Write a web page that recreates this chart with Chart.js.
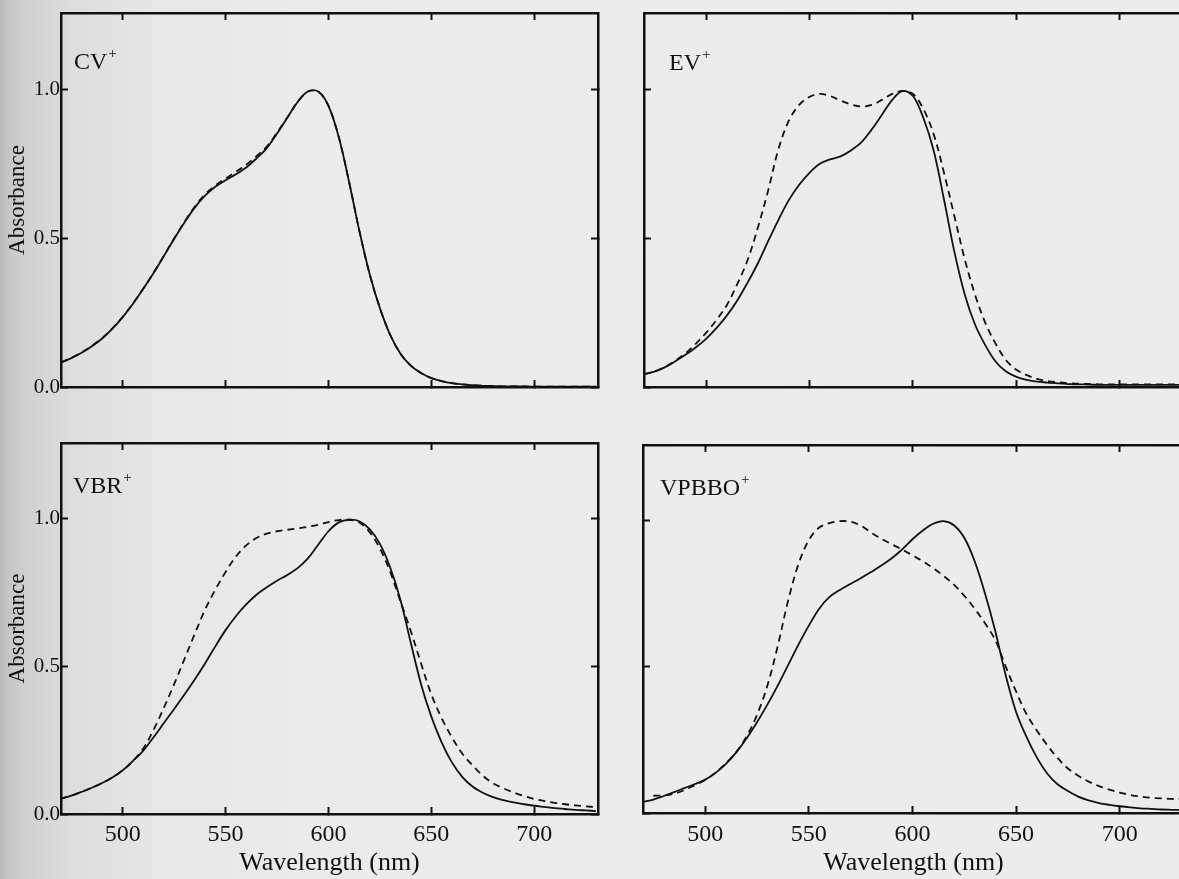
<!DOCTYPE html>
<html>
<head>
<meta charset="utf-8">
<script src="https://cdn.jsdelivr.net/npm/chart.js@4.4.1/dist/chart.umd.min.js"></script>
<style>
html, body { margin: 0; padding: 0; width: 1179px; height: 879px; overflow: hidden; }
body {
  background: linear-gradient(to right, #b8b8b6 0, #c8c8c6 10px, #d3d3d1 35px, #dddddb 70px, #e6e6e4 150px, #ebebe9 300px, #ececea 100%);
  position: relative;
}
.panel { position: absolute; }
</style>
</head>
<body>
<div class="panel" style="left:0;top:0;width:600px;height:430px"><canvas id="cv"></canvas></div>
<div class="panel" style="left:583px;top:0;width:603px;height:430px"><canvas id="ev"></canvas></div>
<div class="panel" style="left:0;top:430px;width:600px;height:449px"><canvas id="vbr"></canvas></div>
<div class="panel" style="left:582px;top:432px;width:604px;height:447px"><canvas id="vpbbo"></canvas></div>
<script>
// wavelength grid (nm)
var wavelengths = [470,475,480,485,490,495,500,505,510,515,520,525,530,535,540,545,550,555,560,565,
  570,575,580,585,590,595,600,605,610,615,620,625,630,635,640,645,650,655,660,665,
  670,675,680,685,690,695,700,705,710,715,720,725,730];

var xTicks = [500, 550, 600, 650, 700];
var yTicks = [0, 0.5, 1.0];

// normalised absorbance, solid and dashed spectra
var cvSolid = [0.082,0.097,0.115,0.137,0.163,0.196,0.235,0.280,0.330,0.383,
  0.440,0.498,0.553,0.603,0.643,0.673,0.695,0.715,0.738,0.768,
  0.803,0.852,0.905,0.958,0.993,0.993,0.945,0.840,0.690,0.525,
  0.380,0.265,0.175,0.112,0.072,0.047,0.030,0.020,0.013,0.009,
  0.006,0.004,0.003,0.002,0.002,0.002,0.001,0.001,0.001,0.001,
  0.001,0.001,0.001];
var cvDashed = [0.083,0.098,0.116,0.138,0.164,0.197,0.236,0.281,0.331,0.384,
  0.441,0.499,0.555,0.606,0.647,0.677,0.701,0.723,0.747,0.776,
  0.808,0.855,0.906,0.958,0.993,0.993,0.945,0.840,0.690,0.525,
  0.380,0.265,0.175,0.112,0.072,0.047,0.030,0.020,0.013,0.009,
  0.006,0.004,0.003,0.002,0.002,0.002,0.001,0.001,0.001,0.001,
  0.001,0.001,0.001];

var evSolid = [0.043,0.052,0.066,0.086,0.108,0.133,0.162,0.198,0.240,0.290,
  0.350,0.415,0.490,0.562,0.628,0.680,0.720,0.750,0.765,0.775,
  0.795,0.822,0.865,0.915,0.965,0.995,0.978,0.905,0.795,0.630,
  0.455,0.312,0.210,0.140,0.085,0.052,0.034,0.024,0.018,0.015,
  0.012,0.010,0.009,0.008,0.007,0.007,0.007,0.007,0.007,0.007,
  0.007,0.007,0.007];
var evDashed = [0.043,0.052,0.067,0.088,0.113,0.145,0.182,0.225,0.275,0.345,
  0.425,0.535,0.660,0.800,0.895,0.948,0.975,0.985,0.978,0.963,
  0.950,0.943,0.948,0.965,0.985,0.995,0.985,0.935,0.850,0.720,
  0.575,0.430,0.310,0.215,0.145,0.090,0.058,0.040,0.027,0.020,
  0.016,0.013,0.011,0.010,0.009,0.009,0.009,0.009,0.009,0.009,
  0.009,0.009,0.009];

var vbrSolid = [0.052,0.062,0.075,0.089,0.105,0.124,0.148,0.180,0.215,0.260,
  0.308,0.356,0.405,0.456,0.510,0.568,0.623,0.670,0.710,0.743,
  0.768,0.790,0.810,0.833,0.866,0.912,0.958,0.988,0.997,0.992,
  0.965,0.915,0.835,0.725,0.580,0.440,0.330,0.243,0.175,0.126,
  0.093,0.072,0.057,0.047,0.039,0.033,0.028,0.024,0.020,0.017,
  0.014,0.012,0.010];
var vbrDashed = [0.052,0.062,0.075,0.089,0.105,0.124,0.148,0.180,0.222,0.285,
  0.360,0.440,0.525,0.610,0.692,0.760,0.820,0.872,0.910,0.935,
  0.950,0.958,0.963,0.968,0.973,0.980,0.989,0.996,0.997,0.988,
  0.955,0.900,0.820,0.720,0.620,0.510,0.405,0.325,0.260,0.205,
  0.165,0.130,0.104,0.087,0.073,0.061,0.051,0.044,0.038,0.033,
  0.029,0.026,0.023];

var vpbboSolid = [0.038,0.046,0.058,0.071,0.085,0.099,0.114,0.137,0.168,0.207,
  0.255,0.310,0.370,0.435,0.505,0.575,0.640,0.698,0.738,0.762,
  0.782,0.802,0.823,0.845,0.870,0.900,0.935,0.965,0.988,0.997,
  0.983,0.940,0.860,0.750,0.620,0.470,0.345,0.260,0.190,0.135,
  0.098,0.075,0.056,0.043,0.034,0.028,0.023,0.019,0.016,0.014,
  0.012,0.011,0.010];
var vpbboDashed = [null,0.059,0.060,0.066,0.078,0.095,0.113,0.138,0.170,0.208,
  0.262,0.335,0.435,0.570,0.725,0.850,0.932,0.975,0.990,0.997,
  0.995,0.982,0.958,0.937,0.918,0.900,0.880,0.860,0.836,0.810,
  0.780,0.742,0.698,0.648,0.590,0.500,0.415,0.338,0.282,0.232,
  0.188,0.152,0.127,0.107,0.092,0.080,0.070,0.062,0.056,0.052,
  0.050,0.048,0.048];

var ink = '#111111';
var serif = '"Liberation Serif", "Times New Roman", serif';

function toPoints(values) {
  return values.map(function (v, i) { return { x: wavelengths[i], y: v }; });
}

// compound name with a superscript plus, inside the plot box
var panelLabel = {
  id: 'panelLabel',
  afterDraw: function (chart, args, o) {
    var ctx = chart.ctx, area = chart.chartArea;
    var x = area.left + o.dx, y = area.top + o.dy;
    ctx.save();
    ctx.fillStyle = ink;
    ctx.textBaseline = 'alphabetic';
    ctx.font = '24px ' + serif;
    ctx.fillText(o.text, x, y);
    var w = ctx.measureText(o.text).width;
    ctx.font = '15px ' + serif;
    ctx.fillText('+', x + w + 1, y - 11);
    ctx.restore();
  }
};

function axisCommon(pos, lo, hi, ticks, size, tickLen) {
  var horiz = pos === 'top' || pos === 'bottom';
  return {
    type: 'linear', position: pos, min: lo, max: hi,
    afterBuildTicks: function (s) { s.ticks = ticks.map(function (v) { return { value: v }; }); },
    afterFit: function (s) {
      if (horiz) { s.height = size; s.paddingLeft = 0; s.paddingRight = 0; }
      else { s.width = size; s.paddingTop = 0; s.paddingBottom = 0; }
    },
    grid: { drawOnChartArea: false, drawTicks: true, tickLength: tickLen, tickWidth: 2, tickColor: ink },
    border: { display: true, color: ink, width: 2.5 },
    ticks: { display: false }
  };
}

function makePanel(id, name, solid, dashed, o) {
  var x = axisCommon('bottom', 470, 731, xTicks, o.xh, -7);
  x.ticks = { display: o.xLabels, padding: o.xPad, color: ink, maxRotation: 0, autoSkip: false,
    font: { family: serif, size: 24 } };
  x.title = { display: o.xLabels, text: 'Wavelength (nm)', color: ink,
    font: { family: serif, size: 26 }, padding: { top: 0, bottom: 0 } };

  var y = axisCommon('left', 0, 1.257, yTicks, 61, -7);
  y.ticks = { display: o.yLabels, padding: 8, color: ink,
    font: { family: serif, size: 21 },
    callback: function (v) { return v.toFixed(1); } };
  y.title = { display: o.yLabels, text: 'Absorbance', color: ink,
    font: { family: serif, size: 23 }, padding: { top: 4, bottom: 0 } };

  new Chart(document.getElementById(id), {
    type: 'line',
    data: {
      datasets: [{
        label: name + ' solid',
        data: toPoints(solid),
        borderColor: ink, borderWidth: 1.8,
        pointRadius: 0, tension: 0.35, fill: false
      }, {
        label: name + ' dashed',
        data: toPoints(dashed),
        borderColor: ink, borderWidth: 1.8, borderDash: [7, 5],
        pointRadius: 0, tension: 0.35, fill: false
      }]
    },
    options: {
      responsive: true, maintainAspectRatio: false, animation: false,
      layout: { padding: { top: 13, right: 2, left: 0, bottom: 0 } },
      scales: {
        x: x,
        x2: axisCommon('top', 470, 731, xTicks, 0, -7),
        y: y,
        y2: axisCommon('right', 0, 1.257, yTicks, 0, o.rightTicks ? -7 : 0)
      },
      plugins: {
        legend: { display: false },
        tooltip: { enabled: false },
        panelLabel: { text: name, dx: o.dx, dy: o.dy }
      }
    },
    plugins: [panelLabel]
  });
}

makePanel('cv', 'CV', cvSolid, cvDashed,
  { xh: 43, xPad: 9, xLabels: false, yLabels: true, rightTicks: true, dx: 13, dy: 56 });
makePanel('ev', 'EV', evSolid, evDashed,
  { xh: 43, xPad: 9, xLabels: false, yLabels: false, rightTicks: false, dx: 25, dy: 57 });
makePanel('vbr', 'VBR', vbrSolid, vbrDashed,
  { xh: 65, xPad: 13, xLabels: true, yLabels: true, rightTicks: true, dx: 12, dy: 50 });
makePanel('vpbbo', 'VPBBO', vpbboSolid, vpbboDashed,
  { xh: 66, xPad: 14, xLabels: true, yLabels: false, rightTicks: false, dx: 17, dy: 50 });
</script>
</body>
</html>
